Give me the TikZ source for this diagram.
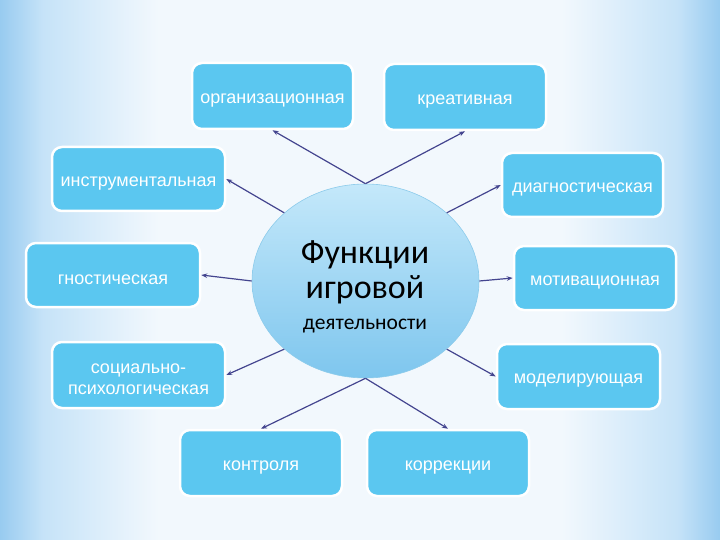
\documentclass[tikz,border=0pt]{standalone}
\usepackage{fontspec}
\setmainfont{Carlito}
\newfontfamily\boxfont{Liberation Sans}
\usetikzlibrary{arrows.meta,shapes.geometric}
\definecolor{bgA}{HTML}{98CBF0}
\definecolor{bgB}{HTML}{C6E3F8}
\definecolor{bgC}{HTML}{F2F8FD}
\definecolor{boxfill}{HTML}{5BC7F0}
\definecolor{ellTop}{HTML}{C4E8FA}
\definecolor{ellBot}{HTML}{7EC6EE}
\definecolor{ellLine}{HTML}{8CCBEB}
\definecolor{arr}{HTML}{44458F}
\pgfdeclarehorizontalshading{bgsh}{100bp}{color(0bp)=(bgA); color(25bp)=(bgA); color(28bp)=(bgB); color(36bp)=(bgC); color(64bp)=(bgC); color(72bp)=(bgB); color(75bp)=(bgA); color(100bp)=(bgA)}
\tikzset{
  fbox/.style={rectangle, rounded corners=10pt, fill=boxfill, draw=white, line width=2.5pt, inner sep=0pt},
  btext/.style={text=white, font=\boxfont\fontsize{18}{21}\selectfont, align=center, inner sep=0pt, yshift=-4.5pt},
  conn/.style={draw=arr, line width=1.2pt, -{Stealth[length=6pt,width=4.5pt]}},
}
\begin{document}
\begin{tikzpicture}[x=1pt,y=-1pt]
\useasboundingbox (0,0) rectangle (720,540);
\shade[shading=bgsh] (0,0) rectangle (720,540);

\node[ellipse, minimum width=227pt, minimum height=194pt, inner sep=0pt,
  top color=ellTop, bottom color=ellBot, draw=ellLine, line width=0.6pt] (c) at (365.5,281) {};
\node[anchor=base, font=\fontsize{34}{36}\selectfont] (t1) at (365,263) {Функции};
\node[anchor=base, font=\fontsize{34}{36}\selectfont] (t2) at (365,298) {игровой};
\node[anchor=base, font=\fontsize{21.5}{24}\selectfont] (t3) at (365,329) {деятельности};

\node[fbox, minimum width=161pt, minimum height=66pt, label={[btext]center:организационная}] (org) at (272.5,96) {};
\node[fbox, minimum width=162pt, minimum height=66pt, label={[btext]center:креативная}] (kre) at (465,97) {};
\node[fbox, minimum width=173pt, minimum height=64pt, label={[btext]center:инструментальная}] (ins) at (138.5,179) {};
\node[fbox, minimum width=174pt, minimum height=64pt, label={[btext]center:гностическая}] (gno) at (113,275) {};
\node[fbox, minimum width=173pt, minimum height=66pt, label={[btext]center:{социально-\\психологическая}}] (soc) at (138.5,375) {};
\node[fbox, minimum width=161pt, minimum height=64pt, label={[btext]center:диагностическая}] (dia) at (582.5,185) {};
\node[fbox, minimum width=162pt, minimum height=64pt, label={[btext]center:мотивационная}] (mot) at (595,278) {};
\node[fbox, minimum width=163pt, minimum height=65pt, label={[btext]center:моделирующая}] (mod) at (578.5,376.5) {};
\node[fbox, minimum width=162pt, minimum height=66pt, label={[btext]center:контроля}] (kon) at (261,463) {};
\node[fbox, minimum width=162pt, minimum height=66pt, label={[btext]center:коррекции}] (kor) at (448,463) {};

\draw[conn] (c.north) -- (org.south);
\draw[conn] (c.north) -- (kre.south);
\draw[conn] (c.140) -- (ins.east);
\draw[conn] (c.west) -- (gno.east);
\draw[conn] (c.220) -- (soc.east);
\draw[conn] (c.40) -- (dia.west);
\draw[conn] (c.east) -- (mot.west);
\draw[conn] (c.-40) -- (mod.west);
\draw[conn] (c.south) -- (kon.north);
\draw[conn] (c.south) -- (kor.north);
\end{tikzpicture}
\end{document}
